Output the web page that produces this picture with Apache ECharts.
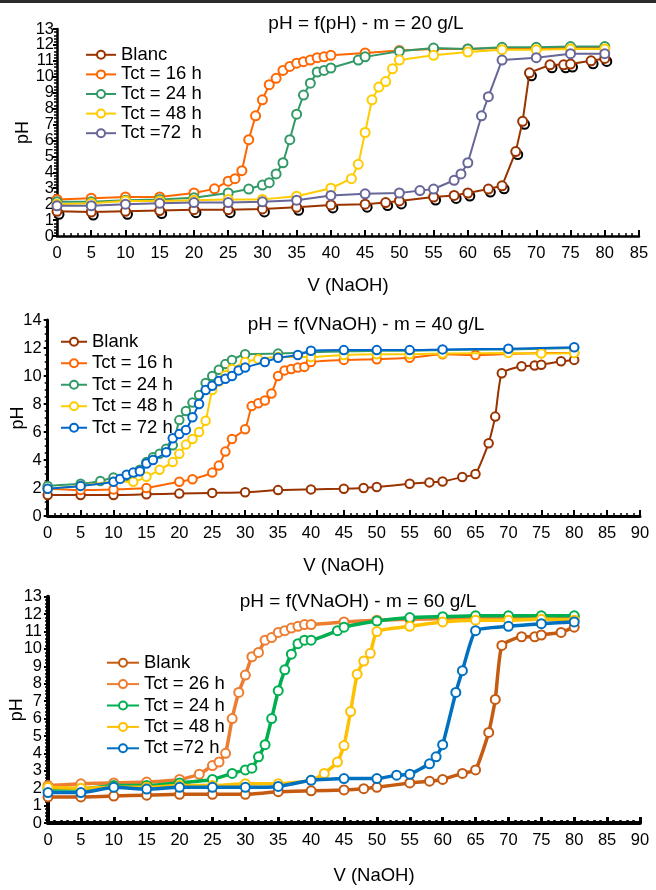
<!DOCTYPE html>
<html><head><meta charset="utf-8">
<script src="https://cdn.jsdelivr.net/npm/echarts@6/dist/echarts.min.js"></script>
<style>
html,body{margin:0;padding:0;background:#fff;width:656px;height:890px;overflow:hidden;position:relative}
#bar{position:absolute;left:0;top:0;width:656px;height:3px;background:#2b2b2b}
.c{position:absolute;left:0;width:656px}
#c1{top:0;height:300px}
#c2{top:300px;height:280px}
#c3{top:580px;height:310px}
</style></head>
<body>
<div id="bar"></div>
<div id="c1" class="c"></div>
<div id="c2" class="c"></div>
<div id="c3" class="c"></div>
<script>
// ---------- Chart 1 : m = 20 g/L ----------
const c1Title = 'pH = f(pH) - m = 20 g/L';
const c1Names = ['Blanc', 'Tct = 16 h', 'Tct = 24 h', 'Tct = 48 h', 'Tct =72  h'];
const c1Blanc = [[0,1.55],[5,1.5],[10,1.55],[15,1.6],[20,1.65],[25,1.65],[30,1.7],[35,1.8],[40,1.95],[45,2.0],[48,2.1],[50,2.2],[55,2.45],[58,2.55],[60,2.7],[63,2.95],[65,3.15],[67,5.3],[68,7.2],[69,10.25],[72,10.75],[74,10.75],[75,10.8],[78,11.0],[80,11.15]];
const c1T16 = [[0,2.3],[5,2.37],[10,2.45],[15,2.45],[20,2.7],[23,2.96],[25,3.44],[26,3.6],[27,4.1],[28,6.05],[29,7.55],[30,8.55],[31,9.5],[32,9.9],[33,10.4],[34,10.65],[35,10.85],[36,10.95],[37,11.05],[38,11.2],[39,11.25],[40,11.35],[45,11.5],[50,11.65],[55,11.75],[60,11.75],[65,11.8],[70,11.8],[75,11.8],[80,11.8]];
const c1T24 = [[0,2.15],[5,2.15],[10,2.25],[15,2.3],[20,2.4],[25,2.7],[28,2.95],[30,3.2],[31,3.35],[32,3.9],[33,4.6],[34,6.05],[35,7.65],[36,8.85],[37,9.6],[38,10.3],[39,10.4],[40,10.55],[44,11.05],[45,11.25],[50,11.6],[55,11.8],[60,11.75],[65,11.85],[70,11.85],[75,11.9],[80,11.9]];
const c1T48 = [[0,2.0],[5,2.05],[10,2.2],[15,2.2],[20,2.25],[25,2.3],[30,2.3],[35,2.5],[40,3.0],[43,3.6],[44,4.5],[45,6.5],[46,8.55],[47,9.35],[48,9.7],[49,10.5],[50,11.05],[55,11.35],[60,11.55],[65,11.7],[70,11.7],[75,11.75],[80,11.75]];
const c1T72 = [[0,1.9],[5,1.9],[10,2.0],[15,2.05],[20,2.1],[25,2.1],[30,2.15],[35,2.25],[40,2.55],[45,2.65],[50,2.7],[53,2.85],[55,2.95],[58,3.5],[59,3.9],[60,4.6],[62,7.55],[63,8.75],[65,11.05],[70,11.2],[75,11.45],[80,11.45]];
const c1Colors = ['#993300','#ff6600','#339966','#ffcc00','#666699'];

// ---------- Chart 2 : m = 40 g/L ----------
const c2Title = 'pH = f(VNaOH) - m = 40 g/L';
const c2Names = ['Blank', 'Tct = 16 h', 'Tct = 24 h', 'Tct = 48 h', 'Tct = 72 h'];
const c2Blank = [[0,1.5],[5,1.5],[10,1.5],[15,1.55],[20,1.6],[25,1.65],[30,1.7],[35,1.85],[40,1.9],[45,1.95],[48,2.0],[50,2.07],[55,2.3],[58,2.4],[60,2.47],[63,2.78],[65,3.0],[67,5.2],[68,7.1],[69,10.2],[72,10.7],[74,10.75],[75,10.8],[78,11.05],[80,11.15]];
const c2T16 = [[0,1.95],[5,1.85],[10,1.9],[15,2.0],[20,2.45],[22,2.63],[25,3.1],[26,3.6],[27,4.6],[28,5.5],[30,6.2],[31,7.85],[32,8.05],[33,8.25],[34,8.75],[35,10.0],[36,10.4],[37,10.5],[38,10.6],[39,10.65],[40,11.0],[45,11.15],[50,11.2],[55,11.3],[60,11.55],[65,11.5],[75,11.65],[80,11.65]];
const c2T24 = [[0,2.15],[5,2.3],[8,2.5],[10,2.75],[12,2.85],[13,3.05],[14,3.3],[15,3.85],[16,4.2],[17,4.45],[18,4.8],[19,5.05],[20,6.85],[21,7.5],[22,8.1],[23,8.65],[24,9.5],[25,10.0],[26,10.45],[27,10.85],[28,11.15],[30,11.55],[35,11.6],[40,11.7],[45,11.75],[50,11.8],[55,11.8],[60,11.85],[70,11.9],[80,12.0]];
const c2T48 = [[0,1.95],[5,2.15],[10,2.45],[13,2.45],[15,2.8],[17,3.3],[19,3.85],[20,4.45],[21,5.1],[22,5.5],[23,6.0],[24,6.8],[25,9.0],[26,9.6],[27,10.05],[28,10.5],[30,11.0],[32,11.2],[35,11.35],[40,11.35],[45,11.5],[50,11.55],[55,11.55],[60,11.6],[70,11.65],[75,11.6],[80,11.65]];
const c2T72 = [[0,1.95],[5,2.15],[10,2.45],[11,2.65],[12,2.95],[13,3.1],[14,3.2],[15,3.75],[16,4.0],[18,4.55],[19,5.55],[20,5.85],[21,6.15],[22,7.05],[23,8.0],[24,9.0],[25,9.3],[26,9.65],[27,9.8],[28,10.0],[29,10.4],[30,10.6],[33,11.0],[35,11.3],[38,11.5],[40,11.8],[45,11.85],[50,11.85],[55,11.85],[60,11.9],[70,11.95],[80,12.05]];
const c2Colors = ['#993300','#ff6600','#339966','#ffcc00','#0066cc'];

// ---------- Chart 3 : m = 60 g/L ----------
const c3Title = 'pH = f(VNaOH) - m = 60 g/L';
const c3Names = ['Blank', 'Tct = 26 h', 'Tct = 24 h', 'Tct = 48 h', 'Tct =72 h'];
const c3Blank = [[0,1.5],[5,1.5],[10,1.55],[15,1.6],[20,1.65],[25,1.65],[30,1.65],[35,1.8],[40,1.85],[45,1.9],[48,1.97],[50,2.05],[55,2.3],[58,2.4],[60,2.5],[63,2.85],[65,3.05],[67,5.2],[68,7.1],[69,10.2],[72,10.7],[74,10.7],[75,10.8],[78,10.95],[80,11.25]];
const c3T26 = [[0,2.15],[5,2.25],[10,2.3],[15,2.35],[20,2.5],[23,2.8],[25,3.3],[26,3.5],[27,4.0],[28,6.0],[29,7.5],[30,8.5],[31,9.55],[32,9.8],[33,10.5],[34,10.65],[35,10.95],[36,11.05],[37,11.2],[38,11.3],[39,11.4],[40,11.4],[45,11.55],[50,11.65],[55,11.7],[60,11.75],[65,11.8],[70,11.8],[75,11.85],[80,11.85]];
const c3T24 = [[0,1.95],[5,1.95],[10,2.15],[15,2.15],[20,2.3],[25,2.5],[28,2.85],[30,3.05],[31,3.15],[32,3.8],[33,4.5],[34,6.0],[35,7.6],[36,8.8],[37,9.7],[38,10.3],[39,10.5],[40,10.5],[44,11.05],[45,11.25],[50,11.6],[55,11.8],[60,11.85],[65,11.9],[70,11.9],[75,11.9],[80,11.9]];
const c3T48 = [[0,2.05],[5,2.0],[10,2.05],[15,2.05],[20,2.15],[25,2.15],[30,2.25],[35,2.25],[40,2.45],[42,2.85],[44,3.5],[45,4.45],[46,6.4],[47,8.55],[48,9.3],[49,9.75],[50,11.0],[55,11.3],[60,11.55],[65,11.65],[70,11.65],[75,11.7],[80,11.65]];
const c3T72 = [[0,1.75],[5,1.75],[10,2.05],[15,1.95],[20,2.05],[25,2.05],[30,2.05],[35,2.1],[40,2.45],[45,2.55],[50,2.55],[53,2.75],[55,2.8],[58,3.4],[59,3.8],[60,4.5],[62,7.5],[63,8.75],[65,11.05],[70,11.3],[75,11.45],[80,11.55]];
const c3Colors = ['#c55a11','#ed7d31','#00b050','#ffc000','#0070c0'];

const xTicks = [0,5,10,15,20,25,30,35,40,45,50,55,60,65,70,75,80,85,90];
const xName = 'V (NaOH)';
const yName = 'pH';

const FONT = '"Liberation Sans", Arial, Helvetica, sans-serif';

function makeSeries(names, datas, colors, cfg) {
  const out = [];
  names.forEach((n, i) => {
    out.push({
      name: n, type: 'line', data: datas[i],
      symbol: 'emptyCircle', symbolSize: cfg.sym,
      smooth: cfg.smooth,
      lineStyle: { color: colors[i], width: cfg.lw },
      itemStyle: { color: colors[i], borderColor: colors[i], borderWidth: cfg.bw },
      z: 3 + i, animation: false
    });
  });
  return out;
}

function axisX(max, nameGap, namePad, thick) {
  return {
    type: 'value', min: 0, max: max, interval: 5,
    name: xName, nameLocation: 'middle', nameGap: nameGap, nameMoveOverlap: false,
    nameTextStyle: { fontFamily: FONT, fontSize: 18.5, color: '#000', padding: namePad },
    axisLine: { show: true, onZero: false, lineStyle: { color: '#000', width: thick } },
    axisTick: { show: true, inside: true, length: 6, lineStyle: { color: '#000', width: thick > 3 ? 3 : 2 } },
    minorTick: { show: true, splitNumber: 5, length: 3, lineStyle: { color: '#000', width: thick > 3 ? 2.5 : 1.5 } },
    splitLine: { show: false }, minorSplitLine: { show: false },
    axisLabel: { fontFamily: FONT, fontSize: 16.5, color: '#000', margin: 9, showMinLabel: true, showMaxLabel: true, hideOverlap: false,
      formatter: v => xTicks.indexOf(v) >= 0 ? String(v) : '' }
  };
}
function axisY(max, interval, minorSplit, nameGap, margin, thick, labelFilter) {
  return {
    type: 'value', min: 0, max: max, interval: interval,
    name: yName, nameLocation: 'middle', nameGap: nameGap, nameRotate: 90, nameMoveOverlap: false,
    nameTextStyle: { fontFamily: FONT, fontSize: 18, color: '#000' },
    axisLine: { show: true, onZero: false, lineStyle: { color: '#000', width: thick } },
    axisTick: { show: true, inside: false, length: 4, lineStyle: { color: '#000', width: 2 } },
    minorTick: { show: true, splitNumber: minorSplit, length: 3, lineStyle: { color: '#000', width: 1.5 } },
    splitLine: { show: false }, minorSplitLine: { show: false },
    axisLabel: { fontFamily: FONT, fontSize: 16.5, color: '#000', margin: margin,
      showMinLabel: true, showMaxLabel: true, hideOverlap: false,
      formatter: labelFilter ? (v => labelFilter(v) ? String(v) : '') : (v => String(v)) }
  };
}
// label-only companion axis (same scale) to show the remaining tick labels without overlap culling
function axisYLabels(max, interval, margin, labelFilter) {
  return {
    type: 'value', min: 0, max: max, interval: interval, position: 'left', offset: 0,
    axisLine: { show: false }, axisTick: { show: false }, splitLine: { show: false },
    axisLabel: { fontFamily: FONT, fontSize: 16.5, color: '#000', margin: margin,
      showMinLabel: true, showMaxLabel: true, hideOverlap: false,
      formatter: v => labelFilter(v) ? String(v) : '' }
  };
}
function legend(names, left, top, iw, lh) {
  return {
    data: names, orient: 'vertical', left: left, top: top, padding: 0,
    itemWidth: iw, itemHeight: 10, itemGap: 0,
    textStyle: { fontFamily: FONT, fontSize: 18.5, color: '#000', lineHeight: lh, height: lh }
  };
}
function titleText(t, x, y) {
  return [{ type: 'text', x: x, y: y, silent: true,
    style: { text: t, font: '19px ' + FONT, fill: '#000', align: 'center', verticalAlign: 'middle', textAlign: 'center', textVerticalAlign: 'middle' } }];
}

// Chart 1
const ch1 = echarts.init(document.getElementById('c1'), null, { renderer: 'canvas' });
const s1 = makeSeries(c1Names, [c1Blanc, c1T16, c1T24, c1T48, c1T72], c1Colors, { sym: 9, lw: 2, bw: 2, smooth: false });
s1.unshift({ name: 'shadow', type: 'line', data: c1Blanc, symbol: 'emptyCircle', symbolSize: 9, symbolOffset: [2, 3],
  lineStyle: { width: 0, opacity: 0 }, itemStyle: { color: '#000', borderColor: '#000', borderWidth: 2.2 }, z: 2, animation: false });
ch1.setOption({
  animation: false,
  grid: { left: 57, top: 29, width: 582, height: 218, containLabel: false },
  xAxis: axisX(85, 40, [0, 0, 0, 0], 2.5),
  yAxis: [
    axisY(13, 1, 5, 25, 3, 2.5, v => v % 2 === 0),
    axisYLabels(13, 1, 3, v => v % 2 === 1)
  ],
  legend: legend(c1Names, 85, 45, 30, 19.6),
  graphic: titleText(c1Title, 366, 24),
  series: s1
});

// Chart 2
const ch2 = echarts.init(document.getElementById('c2'), null, { renderer: 'canvas' });
ch2.setOption({
  animation: false,
  grid: { left: 47.7, top: 20, width: 592.3, height: 209.3, containLabel: false },
  xAxis: axisX(90, 40, [0, 0, 0, 0], 3),
  yAxis: axisY(14, 2, 4, 21, 6, 3),
  legend: legend(c2Names, 60, 31, 26, 21.5),
  graphic: titleText(c2Title, 366, 25),
  series: makeSeries(c2Names, [c2Blank, c2T16, c2T24, c2T48, c2T72], c2Colors, { sym: 8.5, lw: 2, bw: 2, smooth: 0.15 })
});

// Chart 3
const ch3 = echarts.init(document.getElementById('c3'), null, { renderer: 'canvas' });
ch3.setOption({
  animation: false,
  grid: { left: 47.7, top: 16.7, width: 592.3, height: 241.6, containLabel: false },
  xAxis: axisX(90, 43, [0, 0, 0, 60], 4),
  yAxis: axisY(13, 1, 5, 22, 6, 4),
  legend: legend(c3Names, 106, 72, 32, 21.4),
  graphic: titleText(c3Title, 358, 22),
  series: makeSeries(c3Names, [c3Blank, c3T26, c3T24, c3T48, c3T72], c3Colors, { sym: 9, lw: 3.5, bw: 1.5, smooth: 0.15 })
});
</script>
</body></html>
